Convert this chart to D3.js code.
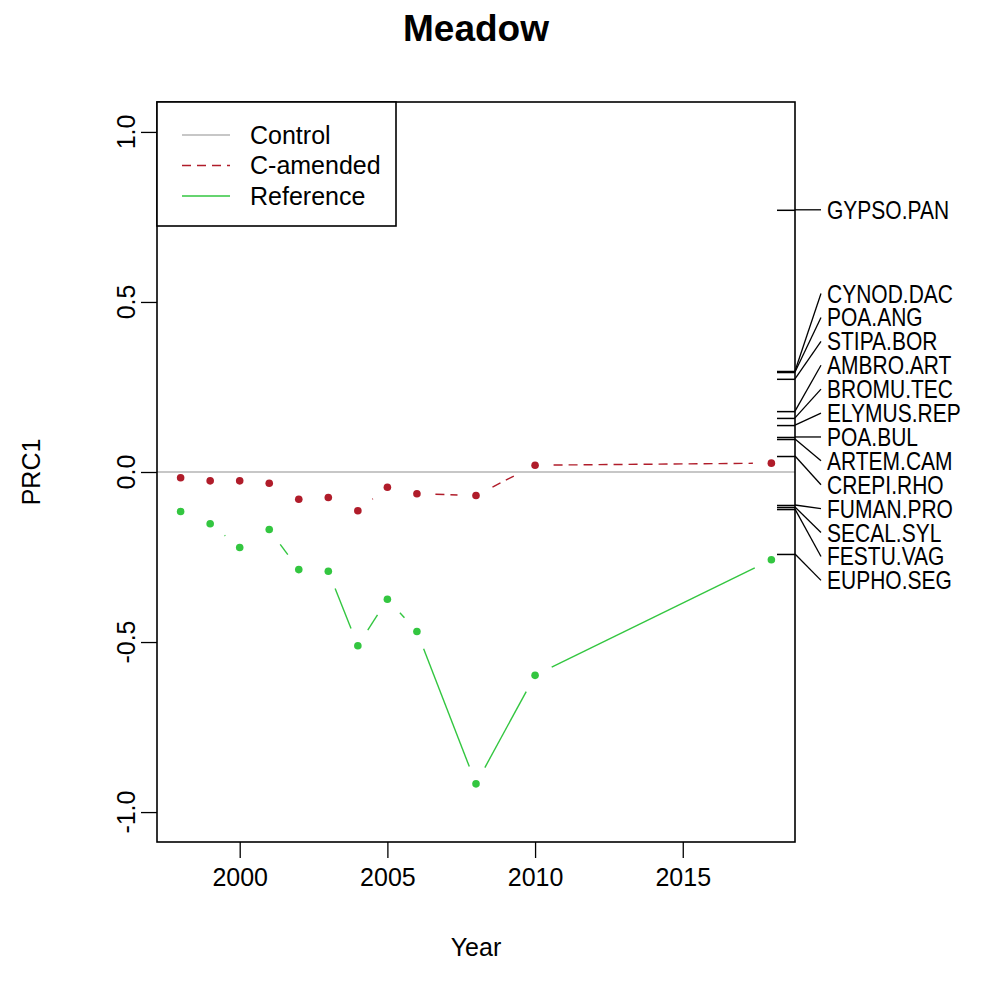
<!DOCTYPE html>
<html>
<head>
<meta charset="utf-8">
<script src="https://cdn.jsdelivr.net/npm/d3@7"></script>
<style>
  body { margin: 0; background: #fff; }
  text { font-family: "Liberation Sans", Arial, sans-serif; fill: #000; }
</style>
</head>
<body>
<script>
// sampling years and PRC1 values per treatment
var years = [1998, 1999, 2000, 2001, 2002, 2003, 2004, 2005, 2006, 2008, 2010, 2018];
var control = [0, 0, 0, 0, 0, 0, 0, 0, 0, 0, 0, 0];
var camended = [-0.017, -0.026, -0.026, -0.033, -0.080, -0.075, -0.114, -0.045, -0.064, -0.069, 0.020, 0.026];
var reference = [-0.116, -0.152, -0.222, -0.169, -0.287, -0.292, -0.511, -0.374, -0.469, -0.917, -0.598, -0.258];

// species scores (right hand axis)
var species = ["GYPSO.PAN", "CYNOD.DAC", "POA.ANG", "STIPA.BOR", "AMBRO.ART", "BROMU.TEC", "ELYMUS.REP",
  "POA.BUL", "ARTEM.CAM", "CREPI.RHO", "FUMAN.PRO", "SECAL.SYL", "FESTU.VAG", "EUPHO.SEG"];
var scores = [0.771, 0.297, 0.294, 0.274, 0.179, 0.159, 0.138, 0.103, 0.097, 0.047, -0.097, -0.103, -0.109, -0.241];

var xTicks = [2000, 2005, 2010, 2015];
var yTicks = [-1, -0.5, 0, 0.5, 1];
var yTickLabels = ["-1.0", "-0.5", "0.0", "0.5", "1.0"];
var legendNames = ["Control", "C-amended", "Reference"];

var width = 1001, height = 1001;
var plotL = 157, plotR = 795, plotT = 102, plotB = 842;

var svg = d3.select("body").append("svg")
  .attr("width", width)
  .attr("height", height);

svg.append("rect").attr("width", width).attr("height", height).attr("fill", "#fff");

var x = d3.scaleLinear().domain([1997.2, 2018.8]).range([plotL, plotR]);
var y = d3.scaleLinear().domain([-1.088, 1.088]).range([plotB, plotT]);

//title and axis labels
svg.append("text")
  .attr("x", (plotL + plotR) / 2).attr("y", 41)
  .attr("text-anchor", "middle")
  .style("font-size", "37px").style("font-weight", "bold")
  .text("Meadow");

svg.append("text")
  .attr("x", (plotL + plotR) / 2).attr("y", 956)
  .attr("text-anchor", "middle")
  .style("font-size", "25px")
  .text("Year");

svg.append("text")
  .attr("transform", "translate(40," + y(0) + ") rotate(-90)")
  .attr("text-anchor", "middle")
  .style("font-size", "25px")
  .text("PRC1");

//x axis
var xAxis = svg.append("g")
  .attr("transform", "translate(0," + plotB + ")")
  .call(d3.axisBottom(x).tickValues(xTicks).tickSize(16).tickPadding(28).tickFormat(d3.format("d")));
xAxis.select(".domain").remove();
xAxis.selectAll("line").attr("stroke", "#000").attr("stroke-width", 1.3);
xAxis.selectAll("text").style("font-size", "25px").attr("dy", null);

//y axis (labels rotated like R)
var yAxis = svg.append("g")
  .attr("transform", "translate(" + plotL + ",0)")
  .call(d3.axisLeft(y).tickValues(yTicks).tickSize(16).tickFormat(""));
yAxis.select(".domain").remove();
yAxis.selectAll("line").attr("stroke", "#000").attr("stroke-width", 1.3);

svg.selectAll(".ylab")
  .data(yTicks)
  .enter()
  .append("text")
  .attr("class", "ylab")
  .attr("transform", function(d){ return "translate(135," + y(d) + ") rotate(-90)"; })
  .attr("text-anchor", "middle")
  .style("font-size", "25px")
  .text(function(d, i){ return yTickLabels[i]; });

//control line across the plot
svg.append("line")
  .attr("x1", x.range()[0]).attr("x2", x.range()[1])
  .attr("y1", y(control[0])).attr("y2", y(control[0]))
  .attr("stroke", "#b4b4b4").attr("stroke-width", 1.5);

//R type = "b": segments with gaps around the points
var gap = 18.5;
function drawSeries(vals, color, dash, cls){
  var pts = years.map(function(d, i){ return [x(d), y(vals[i])]; });
  var segs = [];
  for (var i = 1; i < pts.length; i++){
    var dx = pts[i][0] - pts[i-1][0], dy = pts[i][1] - pts[i-1][1];
    var len = Math.sqrt(dx * dx + dy * dy);
    if (len > 2 * gap){
      var ux = dx / len, uy = dy / len;
      segs.push([pts[i-1][0] + ux * gap, pts[i-1][1] + uy * gap, pts[i][0] - ux * gap, pts[i][1] - uy * gap]);
    }
  }
  svg.selectAll("." + cls + "seg")
    .data(segs)
    .enter()
    .append("line")
    .attr("class", cls + "seg")
    .attr("x1", function(d){ return d[0]; }).attr("y1", function(d){ return d[1]; })
    .attr("x2", function(d){ return d[2]; }).attr("y2", function(d){ return d[3]; })
    .attr("stroke", color).attr("stroke-width", 1.4)
    .attr("stroke-dasharray", dash);
  svg.selectAll("." + cls + "pt")
    .data(vals)
    .enter()
    .append("circle")
    .attr("class", cls + "pt")
    .attr("cx", function(d, i){ return x(years[i]); })
    .attr("cy", function(d){ return y(d); })
    .attr("r", 3.8)
    .attr("fill", color);
}
drawSeries(camended, "#b01c2a", "9,6", "cam");
drawSeries(reference, "#33c640", null, "ref");

//plot box
svg.append("rect")
  .attr("x", plotL).attr("y", plotT)
  .attr("width", plotR - plotL).attr("height", plotB - plotT)
  .attr("fill", "none").attr("stroke", "#000").attr("stroke-width", 1.6);

//species axis on right edge with ticks at the scores
var spAxis = svg.append("g")
  .attr("transform", "translate(" + plotR + ",0)")
  .call(d3.axisLeft(y).tickValues(scores).tickSize(18).tickFormat(""));
spAxis.select(".domain").remove();
spAxis.selectAll("line").attr("stroke", "#000").attr("stroke-width", 1.5);

//linestack placement of labels, working out from the median species
var ht = 23.9 / (y(0) - y(1));
var ord = d3.range(scores.length).sort(function(a, b){ return scores[a] - scores[b]; });
var pos = new Array(ord.length);
var mid = Math.floor((ord.length + 1) / 2) - 1;
pos[mid] = scores[ord[mid]];
for (var i = mid + 1; i < ord.length; i++) pos[i] = Math.max(scores[ord[i]], pos[i-1] + ht);
for (var i = mid - 1; i >= 0; i--) pos[i] = Math.min(scores[ord[i]], pos[i+1] - ht);
var labs = ord.map(function(k, i){ return {name: species[k], score: scores[k], pos: pos[i]}; });

svg.selectAll(".conn")
  .data(labs)
  .enter()
  .append("line")
  .attr("class", "conn")
  .attr("x1", plotR).attr("y1", function(d){ return y(d.score); })
  .attr("x2", plotR + 26).attr("y2", function(d){ return y(d.pos); })
  .attr("stroke", "#000").attr("stroke-width", 1.3);

//labels drawn narrow and tall as in the original device
svg.selectAll(".splab")
  .data(labs)
  .enter()
  .append("text")
  .attr("class", "splab")
  .attr("transform", function(d){ return "translate(" + (plotR + 32) + "," + y(d.pos) + ") scale(0.84,1)"; })
  .attr("dy", "0.36em")
  .style("font-size", "25px")
  .text(function(d){ return d.name; });

//legend
var legend = svg.append("g");
legend.append("rect")
  .attr("x", plotL).attr("y", plotT)
  .attr("width", 239).attr("height", 124)
  .attr("fill", "#fff").attr("stroke", "#000").attr("stroke-width", 1.6);
var legColors = ["#b4b4b4", "#b01c2a", "#33c640"];
var legDash = [null, "9,6", null];
legendNames.forEach(function(n, i){
  var ly = 135 + i * 30.5;
  legend.append("line")
    .attr("x1", 182).attr("x2", 230).attr("y1", ly).attr("y2", ly)
    .attr("stroke", legColors[i]).attr("stroke-width", 1.4)
    .attr("stroke-dasharray", legDash[i]);
  legend.append("text")
    .attr("x", 250).attr("y", ly).attr("dy", "0.35em")
    .style("font-size", "25px")
    .text(n);
});
</script>
</body>
</html>
